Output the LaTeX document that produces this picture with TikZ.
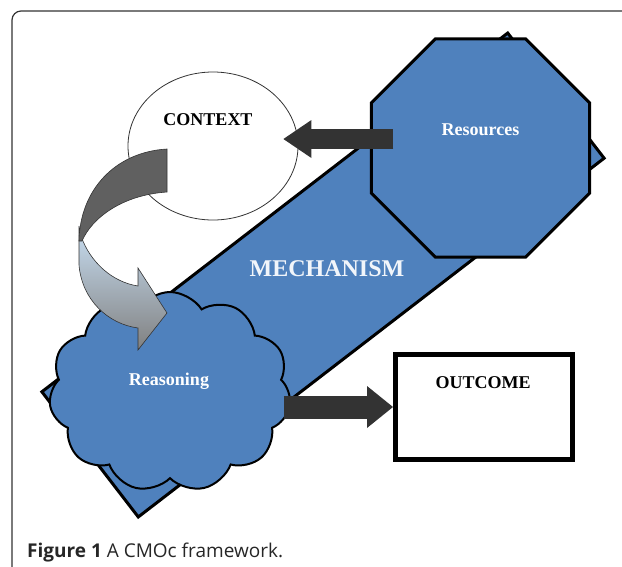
\documentclass[tikz,border=0pt]{standalone}
\usepackage{fontspec}
\setmainfont{Liberation Serif}
\newfontfamily\captionfont{Open Sans}
\usepackage{tikz}
\usetikzlibrary{shapes.geometric}
\usetikzlibrary{shapes.symbols}
\usetikzlibrary{arrows.meta}
\usetikzlibrary{calc}
\definecolor{cmoblue}{RGB}{79,129,189}
\definecolor{arrowgrey}{RGB}{51,51,51}
\definecolor{ribbondark}{RGB}{96,96,96}
\definecolor{ribbonlight}{RGB}{200,222,242}
\definecolor{ribbongrey}{RGB}{128,128,128}

\begin{document}
\begin{tikzpicture}[x=1pt,y=-1pt,
	bluebox/.style={draw=black,fill=cmoblue,inner sep=0pt,outer sep=0pt},
	whitebox/.style={draw=black,fill=white,inner sep=0pt},
	shapetext/.style={inner sep=0pt,font=\bfseries\fontsize{18}{20}\selectfont},
	fatarrow/.style={draw=arrowgrey,line width=#1}
	]
	\useasboundingbox (0,0) rectangle (622,566);
	\draw[line width=1.2pt,draw=black!80,rounded corners=9pt] (12,590) -- (12,11) -- (650,11);
	\node[bluebox,line width=3pt,minimum width=588pt,minimum height=158pt,rotate=37.6] (mechanism) at (323,275) {};
	\node[whitebox,ellipse,draw=black!80,line width=0.8pt,minimum width=170pt,minimum height=148pt] (context) at (213,146) {};
	\node[bluebox,line width=3pt,regular polygon,regular polygon sides=8,minimum size=236pt] (resources) at (480.5,148) {};
	\node[bluebox,line width=2pt,cloud,cloud puffs=11,cloud puff arc=115,minimum width=242pt,minimum height=200pt] (reasoning) at (170,392) {};
	\node[whitebox,line width=5pt,outer sep=2.5pt,minimum width=177pt,minimum height=105pt] (outcome) at (484,407) {};
	\node[shapetext] (contextname) at ($(context.center)+(-5,-26)$) {CONTEXT};
	\node[shapetext,text=white] (resourcesname) at ($(resources.center)+(0,-18)$) {Resources};
	\node[shapetext,text=white] (reasoningname) at ($(reasoning.center)+(-1,-11)$) {Reasoning};
	\node[shapetext] (outcomename) at ($(outcome.center)+(-1,-24)$) {OUTCOME};
	\node[shapetext,text=white!92!cmoblue,font=\bfseries\fontsize{24}{26}\selectfont] (mechanismname) at ($(mechanism.center)+(4,-6)$) {MECHANISM};
	\draw[fatarrow=20pt,-{Triangle[length=28pt,width=38pt,line width=0pt]}] ($(resources.west)+(22,-9)$) -- ($(context.east)+(-15,-7)$);
	\draw[fatarrow=23pt,-{Triangle[length=26pt,width=42pt,line width=0pt]}] ($(reasoning.east |- outcome.west)+(-5,0)$) -- (outcome.west);
	\draw[draw=black!80,line width=0.6pt,top color=ribbonlight,bottom color=ribbongrey] (79,226) -- (79,265) .. controls (82,300) and (108,324) .. (138,328) -- (138,350) -- (167,313) -- (138,268) -- (138,286) .. controls (112,282) and (90,262) .. (81,236) -- cycle;
	\draw[draw=black!80,line width=0.6pt,fill=ribbondark] (167,149) .. controls (115,152) and (80,190) .. (79,241) -- (82,241) .. controls (92,218) and (122,195) .. (167,192) -- cycle;
	\node[anchor=base west,inner sep=0pt,text=black!85,font=\captionfont\fontsize{19}{21}\selectfont] (caption) at (27,557) {\textbf{Figure 1} A CMOc framework.};
\end{tikzpicture}
\end{document}
